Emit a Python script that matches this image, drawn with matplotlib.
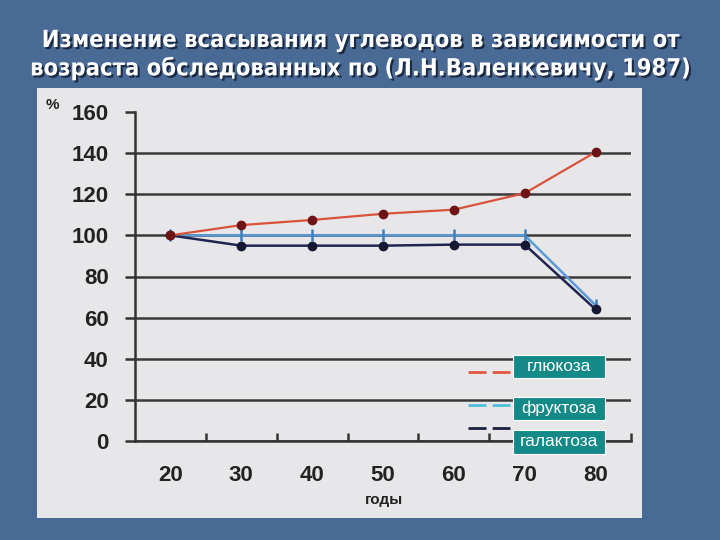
import matplotlib.pyplot as plt
from matplotlib.patches import Rectangle
from matplotlib.lines import Line2D
import matplotlib.patheffects as pe

ages = ['20', '30', '40', '50', '60', '70', '80']
glucose = [100, 105, 107.5, 110.5, 112.5, 120.5, 140.5]
fructose = [100, 100, 100, 100, 100, 100, 66]
galactose = [100, 95, 95, 95, 95.5, 95.5, 64]
y_ticks = [0, 20, 40, 60, 80, 100, 120, 140, 160]
legend_names = ['глюкоза', 'фруктоза', 'галактоза']

plt.rcParams['font.family'] = ['Liberation Sans', 'DejaVu Sans']

fig = plt.figure(figsize=(7.2, 5.4), dpi=100)
fig.patch.set_facecolor('#4a6a96')

# light panel behind the chart
fig.patches.append(Rectangle((37/720, 1-518/540), 605/720, 430/540,
                             transform=fig.transFigure, facecolor='#e7e7e9',
                             edgecolor='none', zorder=-5))

# title with shadow
shadow = [pe.SimplePatchShadow(offset=(1.5, -1.5), shadow_rgbFace='#15233a', alpha=0.9), pe.Normal()]
fig.text(0.5, 1-40/540, 'Изменение всасывания углеводов в зависимости от',
         ha='center', va='center', color='white', fontsize=17, fontweight='bold',
         fontstretch='condensed', family=['DejaVu Sans'], path_effects=shadow)
fig.text(0.5, 1-68/540, 'возраста обследованных по (Л.Н.Валенкевичу, 1987)',
         ha='center', va='center', color='white', fontsize=17, fontweight='bold',
         fontstretch='condensed', family=['DejaVu Sans'], path_effects=shadow)

ax = fig.add_axes([135/720, 1-441/540, 496/720, 329/540])
ax.set_facecolor('none')
ax.set_zorder(2)
x = [i + 0.5 for i in range(len(ages))]

for v in y_ticks[:-1]:
    ax.axhline(v, color='#3a3a3a', lw=1.8, zorder=1)

ax.plot(x, glucose, color='#d9533c', lw=1.6, marker='o', ms=6,
        mfc='#6e1414', mec='#6e1414', zorder=4)
ax.plot(x, fructose, color='#5b9bd5', lw=1.8, marker='|', ms=9,
        mew=1.8, mec='#3f7fc0', zorder=3)
ax.plot(x, galactose, color='#1f2550', lw=1.8, marker='o', ms=6,
        mfc='#141833', mec='#141833', zorder=3)

ax.set_xlim(0, len(ages))
ax.set_ylim(0, 160)
ax.set_yticks(y_ticks)
ax.set_xticks(x)
ax.set_xticklabels(ages)
ax.set_xticks(range(1, len(ages) + 1), minor=True)
ax.tick_params(axis='y', direction='out', length=7, width=1.8, color='#333333',
               pad=12, labelsize=16)
ax.tick_params(axis='x', which='major', length=0, pad=17, labelsize=16)
ax.tick_params(axis='x', which='minor', direction='in', length=6, width=1.8,
               color='#333333')
for lab in ax.get_xticklabels() + ax.get_yticklabels():
    lab.set_fontweight('bold')
    lab.set_color('#222222')
for s in ['top', 'right']:
    ax.spines[s].set_visible(False)
for s in ['left', 'bottom']:
    ax.spines[s].set_color('#333333')
    ax.spines[s].set_linewidth(1.8)

fig.text(52/720, 1-105/540, '%', ha='center', va='center', fontsize=11,
         fontweight='bold', color='#222222')
fig.text(384/720, 1-500/540, 'годы', ha='center', va='center', fontsize=11,
         fontweight='bold', color='#222222')

# legend: dashes + teal label boxes
leg_colors = ['#e0583e', '#4fc0d8', '#1a2040']
dash_y = [0.21, 0.109, 0.04]
box_y = [0.225, 0.10, -0.003]
for name, c, dy, by in zip(legend_names, leg_colors, dash_y, box_y):
    ax.add_line(Line2D([0.671, 0.756], [dy, dy], transform=ax.transAxes, color=c,
                       lw=2, dashes=(6.5, 2.2), clip_on=False, zorder=5))
    ax.add_patch(Rectangle((0.762, by - 0.035), 0.185, 0.07, transform=ax.transAxes,
                           facecolor='#138a87', edgecolor='white', lw=0.8,
                           clip_on=False, zorder=5))
    ax.text(0.762 + 0.0925, by, name, transform=ax.transAxes, ha='center',
            va='center', color='white', fontsize=12.5, zorder=6)

fig.savefig('out.png', dpi=100, facecolor=fig.get_facecolor())
